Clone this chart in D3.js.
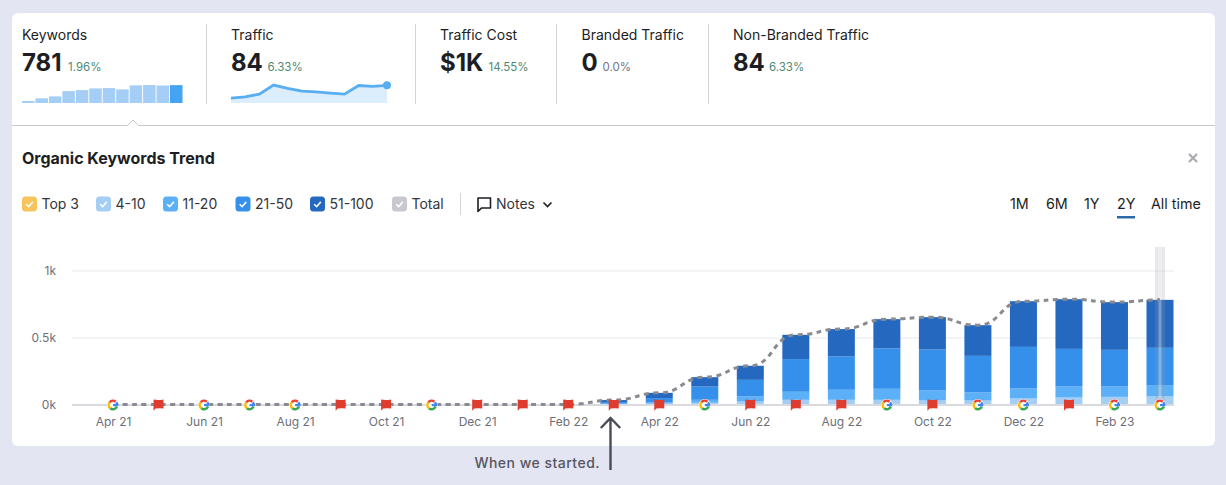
<!DOCTYPE html>
<html>
<head>
<meta charset="utf-8">
<script src="https://cdn.jsdelivr.net/npm/d3@7"></script>
<style>
  html, body { margin: 0; padding: 0; background: #e4e5f2; }
  svg { display: block; }
  text { font-family: Inter, "Noto Sans", sans-serif; }
</style>
</head>
<body>
<div id="chart"></div>
<script>
const months = ["Apr 21", "May 21", "Jun 21", "Jul 21", "Aug 21", "Sep 21", "Oct 21", "Nov 21", "Dec 21", "Jan 22", "Feb 22", "Mar 22",
  "Apr 22", "May 22", "Jun 22", "Jul 22", "Aug 22", "Sep 22", "Oct 22", "Nov 22", "Dec 22", "Jan 23", "Feb 23", "Mar 23"];
const top3 = [0, 0, 0, 0, 0, 0, 0, 0, 0, 0, 0, 0, 0, 1, 1, 2, 2, 2, 2, 2, 3, 3, 3, 3];
const pos4to10 = [0, 0, 0, 0, 0, 0, 0, 0, 0, 0, 0, 1, 6, 12, 21, 33, 33, 33, 28, 28, 42, 49, 54, 57];
const pos11to20 = [0, 0, 0, 0, 0, 0, 0, 0, 0, 0, 0, 5, 9, 22, 38, 60, 75, 82, 74, 60, 74, 82, 77, 85];
const pos21to50 = [0, 0, 0, 0, 0, 0, 0, 0, 0, 0, 0, 12, 33, 99, 124, 244, 248, 301, 306, 273, 311, 281, 274, 278];
const pos51to100 = [0, 0, 0, 0, 0, 0, 0, 0, 0, 0, 0, 15, 39, 70, 105, 181, 205, 219, 242, 229, 341, 371, 356, 358];
const totals = [0, 0, 0, 0, 0, 0, 0, 0, 0, 0, 0, 33, 87, 204, 289, 520, 563, 637, 652, 592, 771, 786, 764, 781];
// g = google update, f = red flag note
const markers = ["g", "f", "g", "g", "g", "f", "f", "g", "f", "f", "f", "f", "f", "g", "f", "f", "f", "g", "f", "g", "g", "f", "g", "g"];
const yTicks = [0, 500, 1000];
const yTickLabels = ["0k", "0.5k", "1k"];

const keywordSpark = [87, 204, 289, 520, 563, 637, 652, 592, 771, 786, 764, 781];
const trafficSpark = [23, 29, 42, 85, 69, 56, 53, 47, 42, 83, 79, 84];

const statLabels = ["Keywords", "Traffic", "Traffic Cost", "Branded Traffic", "Non-Branded Traffic"];
const statValues = ["781", "84", "$1K", "0", "84"];
const statChanges = ["1.96%", "6.33%", "14.55%", "0.0%", "6.33%"];
const statColors = ["#4f8a74", "#4f8a74", "#4f8a74", "#74767f", "#4f8a74"];
const statX = [22, 231, 440, 581.5, 733];
const statChangeX = [68, 267.5, 488.5, 602.5, 769];
const dividerX = [206.5, 415.5, 556.5, 708.5];

const seriesNames = ["Top 3", "4-10", "11-20", "21-50", "51-100"];
const seriesColors = ["#f7c35c", "#a5cef5", "#5cb0f8", "#3590ec", "#2468c0"];
const legendNames = seriesNames.concat(["Total"]);
const legendColors = seriesColors.concat(["#c8c9ce"]);
const legendX = [22, 96, 163, 235.5, 310, 392];
const ranges = ["1M", "6M", "1Y", "2Y", "All time"];
const rangeX = [1010, 1046, 1084, 1117, 1151];

const INK = "#1d1e24";
const GREY = "#6d6f78";

const svg = d3.select("#chart").append("svg").attr("width", 1226).attr("height", 485);

// card
svg.append("rect").attr("x", 12).attr("y", 13).attr("width", 1203).attr("height", 433).attr("rx", 6).attr("fill", "#fff");

// top stats
statLabels.forEach(function (label, i) {
  svg.append("text").attr("x", statX[i]).attr("y", 39.5).attr("font-size", 14).attr("fill", INK).text(label);
  svg.append("text").attr("x", statX[i]).attr("y", 71).attr("font-size", 24).attr("font-weight", 700).attr("fill", INK).text(statValues[i]);
  svg.append("text").attr("x", statChangeX[i]).attr("y", 71).attr("font-size", 11.5).attr("fill", statColors[i]).text(statChanges[i]);
});
svg.selectAll(".stat-divider").data(dividerX).join("line")
  .attr("class", "stat-divider")
  .attr("x1", d => d).attr("x2", d => d).attr("y1", 24).attr("y2", 104)
  .attr("stroke", "#d4d5da");

// divider with the little caret under Keywords
svg.append("path")
  .attr("d", "M12,125.5H127.5L133,120L138.5,125.5H1215")
  .attr("fill", "#fff").attr("stroke", "#c8c9ce");

// keywords sparkline
const sparkX = d3.scaleBand().domain(d3.range(keywordSpark.length)).range([22, 182.5]).paddingInner(0.07);
const sparkY = d3.scaleLinear().domain([0, 786]).range([103, 85]);
svg.selectAll(".spark-bar").data(keywordSpark).join("rect")
  .attr("class", "spark-bar")
  .attr("x", (d, i) => sparkX(i))
  .attr("y", d => sparkY(d))
  .attr("width", sparkX.bandwidth())
  .attr("height", d => 103 - sparkY(d))
  .attr("fill", (d, i) => i === keywordSpark.length - 1 ? "#45a4f2" : "#a5cef7");

// traffic sparkline
const trafficX = d3.scalePoint().domain(d3.range(trafficSpark.length)).range([231, 387]);
const trafficY = d3.scaleLinear().domain([0, 84]).range([103, 85.3]);
svg.append("path").datum(trafficSpark)
  .attr("d", d3.area().x((d, i) => trafficX(i)).y0(103).y1(d => trafficY(d)))
  .attr("fill", "#dcedfb");
svg.append("path").datum(trafficSpark)
  .attr("d", d3.line().x((d, i) => trafficX(i)).y(d => trafficY(d)))
  .attr("fill", "none").attr("stroke", "#58aef0").attr("stroke-width", 2.8);
svg.append("circle")
  .attr("cx", trafficX(trafficSpark.length - 1)).attr("cy", trafficY(84)).attr("r", 4)
  .attr("fill", "#58aef0");

// title row
svg.append("text").attr("x", 22).attr("y", 163.5).attr("font-size", 16).attr("font-weight", 700).attr("fill", INK)
  .text("Organic Keywords Trend");
svg.append("path").attr("d", "M1189,154L1197,162M1197,154L1189,162").attr("stroke", "#a9abb2").attr("stroke-width", 2.2);

// legend
legendNames.forEach(function (name, i) {
  const g = svg.append("g").attr("transform", "translate(" + legendX[i] + ",196.5)");
  g.append("rect").attr("width", 15).attr("height", 15).attr("rx", 3.5).attr("fill", legendColors[i]);
  g.append("path").attr("d", "M4.2,7.8L6.6,10.2L10.8,5.4").attr("fill", "none").attr("stroke", "#fff").attr("stroke-width", 1.6);
  g.append("text").attr("x", 19.5).attr("y", 12.5).attr("font-size", 14).attr("fill", "#33343c").text(name);
});
svg.append("line").attr("x1", 460.5).attr("x2", 460.5).attr("y1", 193).attr("y2", 215).attr("stroke", "#d4d5da");
svg.append("path")
  .attr("d", "M478,198H490.5V208H481.5L478,211.5Z")
  .attr("fill", "none").attr("stroke", INK).attr("stroke-width", 1.6).attr("stroke-linejoin", "round");
svg.append("text").attr("x", 496).attr("y", 209).attr("font-size", 14).attr("fill", "#33343c").text("Notes");
svg.append("path").attr("d", "M543.5,202.5L547.5,206.5L551.5,202.5").attr("fill", "none").attr("stroke", INK).attr("stroke-width", 1.6);

// time range tabs
ranges.forEach(function (r, i) {
  svg.append("text").attr("x", rangeX[i]).attr("y", 209).attr("font-size", 14.3).attr("fill", INK).text(r);
});
svg.append("rect").attr("x", 1117).attr("y", 216).attr("width", 18).attr("height", 2.5).attr("fill", "#2f6aa8");

// main chart
const x = d3.scalePoint().domain(months).range([113, 1160]);
const y = d3.scaleLinear().domain([0, 1000]).range([404.5, 270.5]);
const BAR_W = 27;

const yAxis = svg.append("g").attr("transform", "translate(72,0)")
  .call(d3.axisLeft(y).tickValues(yTicks).tickFormat((d, i) => yTickLabels[i]).tickSize(-1102).tickPadding(16));
yAxis.select(".domain").remove();
yAxis.selectAll("line").attr("stroke", "#e8e9ec");
yAxis.selectAll("text").attr("font-size", 12).attr("fill", GREY).style("font-family", "Inter");

const xAxis = svg.append("g").attr("transform", "translate(0,405)")
  .call(d3.axisBottom(x).tickValues(months.filter((d, i) => i % 2 === 0)).tickSize(0).tickPadding(12));
xAxis.select(".domain").remove();
xAxis.selectAll("text").attr("font-size", 12).attr("fill", GREY).style("font-family", "Inter");

const table = months.map(function (m, i) {
  return { month: m, "Top 3": top3[i], "4-10": pos4to10[i], "11-20": pos11to20[i], "21-50": pos21to50[i], "51-100": pos51to100[i] };
});
const stacked = d3.stack().keys(seriesNames)(table);

svg.append("g").selectAll("g").data(stacked).join("g")
  .attr("fill", (d, i) => seriesColors[i])
  .selectAll("rect").data(d => d).join("rect")
  .attr("x", d => x(d.data.month) - BAR_W / 2)
  .attr("y", d => y(d[1]))
  .attr("width", BAR_W)
  .attr("height", d => y(d[0]) - y(d[1]));

// baseline sits on top of the bars
svg.append("line").attr("x1", 72).attr("x2", 1174).attr("y1", 405).attr("y2", 405).attr("stroke", "#d9dadf").attr("stroke-width", 2);

// hover column on the last month
const hoverX = x(months[months.length - 1]);
svg.append("rect").attr("x", hoverX - 5).attr("y", 247).attr("width", 10).attr("height", 158).attr("fill", "#9a9ca3").attr("opacity", 0.22);
svg.append("rect").attr("x", hoverX - 1.5).attr("y", 247).attr("width", 3).attr("height", 158).attr("fill", "#fff").attr("opacity", 0.3);

// total line
svg.append("path").datum(totals)
  .attr("d", d3.line().curve(d3.curveBumpX).x((d, i) => x(months[i])).y(d => y(d)))
  .attr("fill", "none").attr("stroke", "#8a8b90").attr("stroke-width", 3).attr("stroke-dasharray", "5,4.5");

// markers along the axis
const gArc = d3.arc().innerRadius(3).outerRadius(5.5);
const gPieces = [
  { start: 0.28 * Math.PI, end: 0.5 * Math.PI + 0.02, color: "#4285f4" },
  { start: 0.62 * Math.PI, end: 1.22 * Math.PI, color: "#34a853" },
  { start: 1.22 * Math.PI, end: 1.72 * Math.PI, color: "#fbbc05" },
  { start: 1.72 * Math.PI, end: 2.22 * Math.PI, color: "#ea4335" }
];
months.forEach(function (m, i) {
  const g = svg.append("g").attr("transform", "translate(" + x(m) + ",405)");
  if (markers[i] === "g") {
    g.append("circle").attr("r", 6).attr("fill", "#fff");
    gPieces.forEach(function (p) {
      g.append("path").attr("d", gArc({ startAngle: p.start, endAngle: p.end })).attr("fill", p.color);
    });
    g.append("rect").attr("x", 0).attr("y", -1).attr("width", 5.5).attr("height", 2.2).attr("fill", "#4285f4");
  } else {
    g.append("path").attr("d", "M-5,-5.4Q0,-4.6 5,-5.6V3.4Q0,3 -3,3.6L-4.6,5.6H-5Z").attr("fill", "#dd3c2f");
  }
});

// annotation under the card
svg.append("path")
  .attr("d", "M610.5,470V418M600.8,428L610.5,418L620.2,428")
  .attr("fill", "none").attr("stroke", "#4a4c58").attr("stroke-width", 2.4);
svg.append("text").attr("x", 600).attr("y", 468).attr("text-anchor", "end")
  .attr("font-size", 14).attr("font-weight", 500).attr("letter-spacing", 0.48).attr("fill", "#55565f")
  .text("When we started.");
</script>
</body>
</html>
